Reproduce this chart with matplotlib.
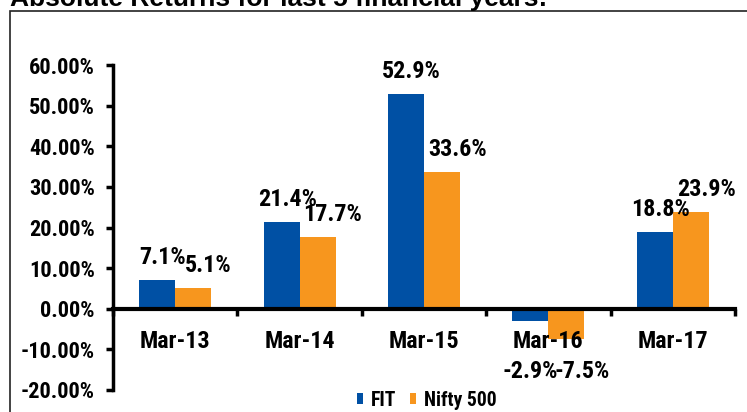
import matplotlib.pyplot as plt
from matplotlib import font_manager
from matplotlib.patches import Rectangle
from matplotlib.ticker import FixedLocator
import numpy as np

years = ["Mar-13", "Mar-14", "Mar-15", "Mar-16", "Mar-17"]
fit = [7.1, 21.4, 52.9, -2.9, 18.8]
nifty = [5.1, 17.7, 33.6, -7.5, 23.9]
yticks = [-20, -10, 0, 10, 20, 30, 40, 50, 60]

BLUE = "#0050A4"
ORANGE = "#F7961E"

# use a narrow face if the box has one, Arial Narrow look-alike
names = {f.name for f in font_manager.fontManager.ttflist}
narrow = [n for n in ["Liberation Sans Narrow", "Arial Narrow", "Roboto Condensed",
                      "Open Sans Condensed", "DejaVu Sans Condensed"] if n in names]
NARROW = narrow[:1] + ["Liberation Sans", "DejaVu Sans"]
scale = 1.15 if narrow else 1.0

W, H = 747, 412
fig = plt.figure(figsize=(W / 100, H / 100), dpi=100)

# outer frame, only top and left edges are inside the picture
fig.patches.append(Rectangle((10 / W, -0.1), 1.2, 1 - 11 / H + 0.1,
                             transform=fig.transFigure, fill=False,
                             edgecolor="#222222", linewidth=1.2))
fig.text(10 / W, 1 - 6 / H, "Absolute Returns for last 5 financial years:",
         family=["Liberation Sans", "DejaVu Sans"], weight="bold",
         fontsize=19, va="baseline", ha="left")

left, right, top, bottom = 113, 735, 65, 390
ax = fig.add_axes([left / W, 1 - bottom / H, (right - left) / W, (bottom - top) / H])

x = np.arange(len(years))
bw = 0.29
b1 = ax.bar(x - bw / 2, fit, bw, color=BLUE, label="FIT")
b2 = ax.bar(x + bw / 2, nifty, bw, color=ORANGE, label="Nifty 500")

ax.set_xlim(-0.5, len(years) - 0.5)
ax.set_ylim(-20, 60)

for s in ["top", "right"]:
    ax.spines[s].set_visible(False)
ax.spines["left"].set_linewidth(2.5)
ax.spines["bottom"].set_position(("data", 0))
ax.spines["bottom"].set_linewidth(3)
ax.spines["bottom"].set_zorder(3)

ax.set_yticks(yticks)
ax.set_yticklabels([f"{v:.2f}%" for v in yticks])
ax.tick_params(axis="y", direction="out", length=5, width=2.5, pad=8)

ax.set_xticks(x)
ax.set_xticklabels(years)
ax.tick_params(axis="x", which="major", length=0, pad=15)
ax.xaxis.set_minor_locator(FixedLocator(np.arange(len(years) + 1) - 0.5))
ax.tick_params(axis="x", which="minor", direction="out", length=5, width=2.5)

for lab in ax.get_yticklabels() + ax.get_xticklabels():
    lab.set_family(NARROW)
    lab.set_weight("bold")
for lab in ax.get_yticklabels():
    lab.set_fontsize(14 * scale)
for lab in ax.get_xticklabels():
    lab.set_fontsize(15 * scale)

# data labels, Excel put the two negatives under the category names
for bars, vals, dx, ndx in [(b1, fit, 4, 0), (b2, nifty, 11, 11)]:
    for rect, v in zip(bars, vals):
        cx = rect.get_x() + rect.get_width() / 2
        if v >= 0:
            ax.annotate(f"{v:.1f}%", (cx, v), xytext=(dx, 8),
                        textcoords="offset points", ha="center", va="bottom",
                        family=NARROW, fontsize=15 * scale, weight="semibold")
        else:
            ax.annotate(f"{v:.1f}%", (cx, -15.5), xytext=(ndx, 0),
                        textcoords="offset points", ha="center", va="center",
                        family=NARROW, fontsize=15 * scale, weight="semibold")

ax.legend(loc="center", bbox_to_anchor=(0.505, -0.031), ncol=2,
          frameon=False, handlelength=0.3, handleheight=0.5,
          handletextpad=0.4, columnspacing=0.7,
          prop={"family": NARROW, "size": 14 * scale * 0.88, "weight": "bold"})

fig.savefig("out.png", dpi=100)
